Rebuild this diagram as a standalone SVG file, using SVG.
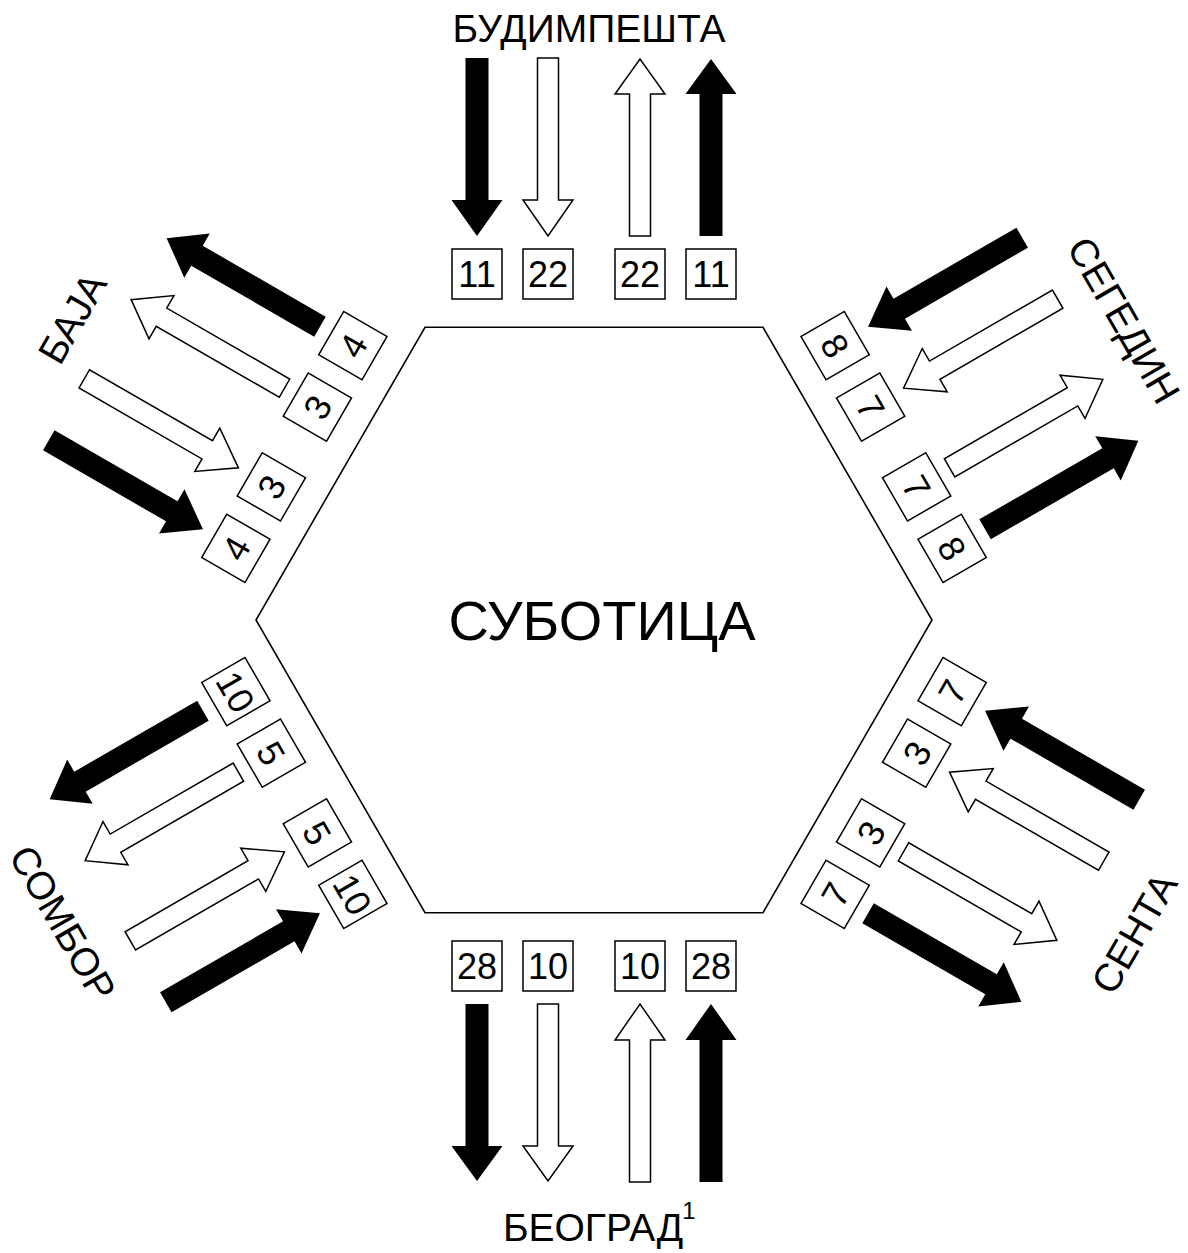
<svg xmlns="http://www.w3.org/2000/svg" xmlns:xlink="http://www.w3.org/1999/xlink" width="1188" height="1253" viewBox="0 0 1188 1253">
  <style>
    .lbl { font-family: "Liberation Sans", Arial, sans-serif; font-size: 39px; fill: #000; text-anchor: middle; }
    .num { font-family: "Liberation Sans", Arial, sans-serif; font-size: 36px; fill: #000; text-anchor: middle; }
    .box { fill: #fff; stroke: #000; stroke-width: 1.5; }
    .hex { fill: #fff; stroke: #000; stroke-width: 1.6; }
    .solid { fill: #000; stroke: none; }
    .hollow { fill: #fff; stroke: #000; stroke-width: 1.5; stroke-linejoin: miter; }
  </style>
  <defs>
    <!-- one set of four flow arrows for an edge, drawn for the top edge around the hub centre -->
    <g id="arrowSet">
      <polygon class="solid" points="-128.5,-562 -105.5,-562 -105.5,-420 -91.5,-420 -117,-384 -142.5,-420 -128.5,-420"/>
      <polygon class="hollow" points="-56.5,-562 -35.5,-562 -35.5,-420 -21,-420 -46,-384 -71,-420 -56.5,-420"/>
      <polygon class="hollow" points="35.5,-384 56.5,-384 56.5,-526 71,-526 46,-561 21,-526 35.5,-526"/>
      <polygon class="solid" points="105.5,-384 128.5,-384 128.5,-526 142.5,-526 117,-561 91.5,-526 105.5,-526"/>
    </g>
    <!-- four count boxes for an edge -->
    <g id="boxSet">
      <rect class="box" x="-142" y="-371" width="50" height="50"/>
      <rect class="box" x="-71" y="-371" width="50" height="50"/>
      <rect class="box" x="21" y="-371" width="50" height="50"/>
      <rect class="box" x="92" y="-371" width="50" height="50"/>
    </g>
  </defs>

  <!-- hub -->
  <g id="subotica">
    <polygon class="hex" points="425,327.3 763,327.3 932,620 763,912.7 425,912.7 256,620"/>
    <text class="lbl" x="602" y="640" style="font-size:56px">СУБОТИЦА</text>
  </g>

  <!-- flows along each edge -->
  <g id="connectors">
    <use xlink:href="#arrowSet" transform="translate(594 620)"/>
    <use xlink:href="#arrowSet" transform="translate(594 620) rotate(60)"/>
    <use xlink:href="#arrowSet" transform="translate(594 620) rotate(120)"/>
    <use xlink:href="#arrowSet" transform="translate(594 620) rotate(180)"/>
    <use xlink:href="#arrowSet" transform="translate(594 620) rotate(240)"/>
    <use xlink:href="#arrowSet" transform="translate(594 620) rotate(300)"/>
  </g>

  <g id="budimpesta">
    <text class="lbl" x="589" y="42">БУДИМПЕШТА</text>
    <g transform="translate(594 620)">
      <use xlink:href="#boxSet"/>
      <text class="num" x="-117" y="-333">11</text>
      <text class="num" x="-46" y="-333">22</text>
      <text class="num" x="46" y="-333">22</text>
      <text class="num" x="117" y="-333">11</text>
    </g>
  </g>

  <g id="segedin">
    <text class="lbl" transform="translate(1112 327) rotate(60)">СЕГЕДИН</text>
    <g transform="translate(594 620) rotate(60)">
      <use xlink:href="#boxSet"/>
      <text class="num" x="-117" y="-333">8</text>
      <text class="num" x="-46" y="-333">7</text>
      <text class="num" x="46" y="-333">7</text>
      <text class="num" x="117" y="-333">8</text>
    </g>
  </g>

  <g id="senta">
    <text class="lbl" transform="translate(1146 940) rotate(-60)">СЕНТА</text>
    <g transform="translate(594 620) rotate(120)">
      <use xlink:href="#boxSet"/>
      <g transform="rotate(180 -117 -346)"><text class="num" x="-117" y="-333">7</text></g>
      <g transform="rotate(180 -46 -346)"><text class="num" x="-46" y="-333">3</text></g>
      <g transform="rotate(180 46 -346)"><text class="num" x="46" y="-333">3</text></g>
      <g transform="rotate(180 117 -346)"><text class="num" x="117" y="-333">7</text></g>
    </g>
  </g>

  <g id="beograd">
    <text class="lbl" x="593" y="1241">БЕОГРАД</text>
    <text class="lbl" x="689" y="1219" style="font-size:24px">1</text>
    <g transform="translate(594 620) rotate(180)">
      <use xlink:href="#boxSet"/>
      <g transform="rotate(180 -117 -346)"><text class="num" x="-117" y="-333">28</text></g>
      <g transform="rotate(180 -46 -346)"><text class="num" x="-46" y="-333">10</text></g>
      <g transform="rotate(180 46 -346)"><text class="num" x="46" y="-333">10</text></g>
      <g transform="rotate(180 117 -346)"><text class="num" x="117" y="-333">28</text></g>
    </g>
  </g>

  <g id="sombor">
    <text class="lbl" transform="translate(51 930) rotate(60)">СОМБОР</text>
    <g transform="translate(594 620) rotate(240)">
      <use xlink:href="#boxSet"/>
      <g transform="rotate(180 -117 -346)"><text class="num" x="-117" y="-333">10</text></g>
      <g transform="rotate(180 -46 -346)"><text class="num" x="-46" y="-333">5</text></g>
      <g transform="rotate(180 46 -346)"><text class="num" x="46" y="-333">5</text></g>
      <g transform="rotate(180 117 -346)"><text class="num" x="117" y="-333">10</text></g>
    </g>
  </g>

  <g id="baja">
    <text class="lbl" transform="translate(84 325) rotate(-60)">БАЈА</text>
    <g transform="translate(594 620) rotate(300)">
      <use xlink:href="#boxSet"/>
      <text class="num" x="-117" y="-333">4</text>
      <text class="num" x="-46" y="-333">3</text>
      <text class="num" x="46" y="-333">3</text>
      <text class="num" x="117" y="-333">4</text>
    </g>
  </g>
</svg>
